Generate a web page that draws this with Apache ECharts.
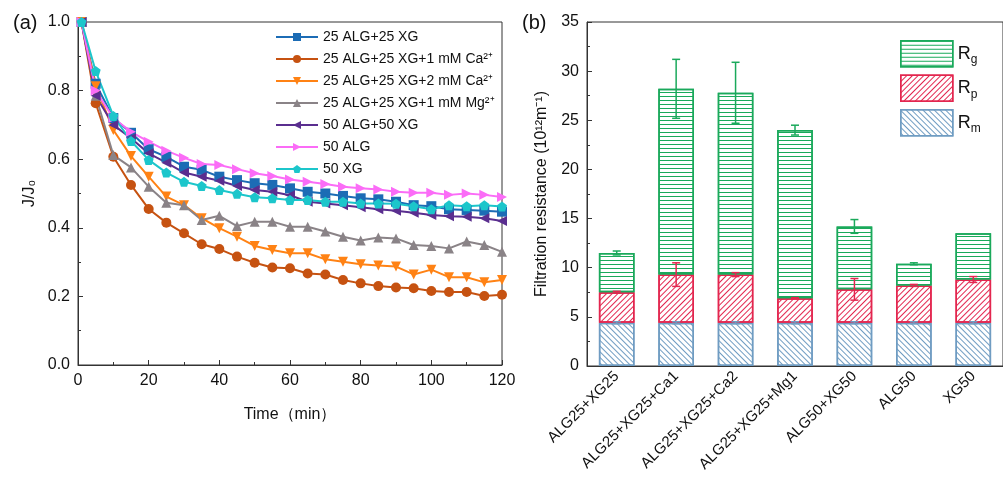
<!DOCTYPE html>
<html lang="en">
<head>
  <meta charset="UTF-8">
  <title>Flux decline and filtration resistance</title>
  <script src="https://cdn.jsdelivr.net/npm/echarts@6/dist/echarts.min.js"></script>
  <style>
    html, body {
      margin: 0;
      padding: 0;
      width: 100%;
      height: 100%;
      background: #fff;
    }
    #main {
      width: 1003px;
      height: 482px;
    }
  </style>
</head>
<body>
  <div id="main"></div>
  <script>
    // (a) normalised flux J/J0 vs time
    const times = [1, 5, 10, 15, 20, 25, 30, 35, 40, 45, 50, 55, 60, 65, 70, 75, 80, 85, 90, 95, 100, 105, 110, 115, 120];
    const alg25xg25 = [1.0, 0.82, 0.72, 0.677, 0.629, 0.607, 0.578, 0.569, 0.549, 0.539, 0.53, 0.525, 0.515, 0.505, 0.5, 0.493, 0.486, 0.483, 0.476, 0.466, 0.463, 0.454, 0.452, 0.45, 0.447];
    const alg25xg25Ca1 = [1.0, 0.763, 0.607, 0.525, 0.455, 0.415, 0.384, 0.352, 0.338, 0.316, 0.298, 0.284, 0.282, 0.267, 0.264, 0.248, 0.238, 0.23, 0.226, 0.224, 0.216, 0.213, 0.213, 0.201, 0.205];
    const alg25xg25Ca2 = [1.0, 0.813, 0.685, 0.609, 0.549, 0.491, 0.466, 0.428, 0.399, 0.374, 0.347, 0.335, 0.326, 0.326, 0.308, 0.301, 0.294, 0.29, 0.287, 0.264, 0.278, 0.256, 0.256, 0.241, 0.248];
    const alg25xg25Mg1 = [1.0, 0.785, 0.612, 0.576, 0.52, 0.473, 0.466, 0.423, 0.435, 0.405, 0.418, 0.418, 0.403, 0.403, 0.389, 0.374, 0.363, 0.372, 0.369, 0.35, 0.347, 0.34, 0.36, 0.35, 0.33];
    const alg50xg50 = [1.0, 0.785, 0.7, 0.661, 0.617, 0.59, 0.561, 0.549, 0.537, 0.522, 0.51, 0.505, 0.495, 0.476, 0.471, 0.466, 0.46, 0.454, 0.45, 0.444, 0.437, 0.434, 0.432, 0.428, 0.42];
    const alg50 = [1.0, 0.8, 0.72, 0.68, 0.651, 0.625, 0.604, 0.586, 0.583, 0.571, 0.559, 0.551, 0.541, 0.534, 0.528, 0.52, 0.515, 0.512, 0.505, 0.502, 0.502, 0.496, 0.5, 0.496, 0.49];
    const xg50 = [1.0, 0.857, 0.726, 0.653, 0.598, 0.561, 0.534, 0.522, 0.51, 0.499, 0.489, 0.486, 0.481, 0.481, 0.476, 0.476, 0.471, 0.471, 0.47, 0.463, 0.454, 0.466, 0.463, 0.466, 0.462];

    // (b) filtration resistance components
    const categories = ['ALG25+XG25', 'ALG25+XG25+Ca1', 'ALG25+XG25+Ca2', 'ALG25+XG25+Mg1', 'ALG50+XG50', 'ALG50', 'XG50'];
    const rm = [4.4, 4.4, 4.4, 4.4, 4.4, 4.4, 4.4];
    const rp = [3.1, 4.9, 4.9, 2.5, 3.4, 3.8, 4.4];
    const rg = [4.0, 18.9, 18.5, 17.1, 6.4, 2.2, 4.7];
    const rmErr = [0.1, 0.1, 0.1, 0.1, 0.1, 0.1, 0.1];
    const rpErr = [0.1, 1.2, 0.2, 0.05, 1.1, 0.1, 0.3];
    const rgErr = [0.2, 3.0, 3.1, 0.5, 0.7, 0.1, 0];

    const FONT = 'Liberation Sans';
    const AXIS = '#333';
    const GREEN = '#1aa95b';
    const RED = '#e3264f';
    const BLUE = '#6f9cc2';

    const pentagon = 'path://M0,-1 L0.951,-0.309 L0.588,0.809 L-0.588,0.809 L-0.951,-0.309 Z';

    function lineSeries(name, data, color, symbol, rotate) {
      return {
        name: name,
        type: 'line',
        xAxisIndex: 0,
        yAxisIndex: 0,
        data: times.map((t, i) => [t, data[i]]),
        symbol: symbol,
        symbolRotate: rotate || 0,
        symbolSize: 10,
        itemStyle: { color: color },
        lineStyle: { color: color, width: 2 },
        z: 3
      };
    }

    function sum(a, b) { return a.map((v, i) => v + b[i]); }
    const rpTop = sum(rm, rp);
    const rgTop = sum(rpTop, rg);

    function errSeries(name, tops, errs, color) {
      return {
        name: name,
        type: 'custom',
        xAxisIndex: 1,
        yAxisIndex: 1,
        z: 10,
        data: categories.map((c, i) => [i, tops[i], errs[i]]),
        encode: { x: 0, y: 1 },
        renderItem: function (params, api) {
          const x = api.value(0), y = api.value(1), e = api.value(2);
          if (!e) return null;
          const hi = api.coord([x, y + e]);
          const lo = api.coord([x, y - e]);
          const w = 4;
          const st = { stroke: color, lineWidth: 1.5 };
          return {
            type: 'group',
            children: [
              { type: 'line', shape: { x1: hi[0], y1: hi[1], x2: lo[0], y2: lo[1] }, style: st },
              { type: 'line', shape: { x1: hi[0] - w, y1: hi[1], x2: hi[0] + w, y2: hi[1] }, style: st },
              { type: 'line', shape: { x1: lo[0] - w, y1: lo[1], x2: lo[0] + w, y2: lo[1] }, style: st }
            ]
          };
        }
      };
    }

    function hatchStyle(color, rot) {
      return {
        color: '#fff',
        borderColor: color,
        borderWidth: 1.5,
        decal: {
          symbol: 'rect',
          symbolSize: 1,
          color: color,
          dashArrayX: [1, 0],
          dashArrayY: [1, 3],
          rotation: rot
        }
      };
    }

    const ROT_G = 0, ROT_P = -Math.PI / 4, ROT_M = Math.PI / 4;

    function barSeries(name, data, color, rot) {
      return {
        name: name,
        type: 'bar',
        xAxisIndex: 1,
        yAxisIndex: 1,
        stack: 'r',
        barWidth: '60%',
        data: data,
        itemStyle: hatchStyle(color, rot)
      };
    }

    const lineNames = ['25 ALG+25 XG', '25 ALG+25 XG+1 mM Ca²⁺', '25 ALG+25 XG+2 mM Ca²⁺',
      '25 ALG+25 XG+1 mM Mg²⁺', '50 ALG+50 XG', '50 ALG', '50 XG'];

    const chart = echarts.init(document.getElementById('main'));

    const option = {
      animation: false,
      textStyle: { fontFamily: FONT },
      title: [
        { text: '(a)', left: 8, top: 8, textStyle: { fontSize: 20, fontWeight: 'normal', color: '#111', fontFamily: FONT } },
        { text: '(b)', left: 517, top: 8, textStyle: { fontSize: 20, fontWeight: 'normal', color: '#111', fontFamily: FONT } }
      ],
      grid: [
        { left: 78, top: 22, width: 424, height: 343, show: true, borderColor: AXIS, borderWidth: 1, backgroundColor: 'transparent' },
        { left: 587, top: 22, width: 425, height: 344, show: true, borderColor: AXIS, borderWidth: 1, backgroundColor: 'transparent' }
      ],
      legend: [
        {
          data: lineNames,
          orient: 'vertical',
          left: 270,
          top: 25,
          itemWidth: 42,
          itemHeight: 10,
          itemGap: 8,
          textStyle: { fontFamily: FONT, fontSize: 14, color: '#111' }
        },
        {
          data: [
            { name: 'Rg', itemStyle: hatchStyle(GREEN, ROT_G) },
            { name: 'Rp', itemStyle: hatchStyle(RED, ROT_P) },
            { name: 'Rm', itemStyle: hatchStyle(BLUE, ROT_M) }
          ],
          orient: 'vertical',
          left: 895,
          top: 35,
          icon: 'rect',
          itemWidth: 52,
          itemHeight: 26,
          itemGap: 7,
          formatter: function (n) { return '{r|R}{s|' + n.slice(1) + '}'; },
          textStyle: {
            color: '#111',
            rich: {
              r: { fontFamily: FONT, fontSize: 18, color: '#111' },
              s: { fontFamily: FONT, fontSize: 12, color: '#111', padding: [12, 0, 0, 0] }
            }
          }
        }
      ],
      xAxis: [
        {
          gridIndex: 0,
          type: 'value',
          min: 0,
          max: 120,
          interval: 20,
          name: 'Time（min）',
          nameLocation: 'middle',
          nameGap: 42,
          nameTextStyle: { fontFamily: FONT, fontSize: 16, color: '#111' },
          axisLine: { lineStyle: { color: AXIS, width: 1 } },
          axisTick: { inside: true, length: 5, lineStyle: { color: AXIS } },
          minorTick: { show: true, splitNumber: 2, length: 3, lineStyle: { color: AXIS } },
          axisLabel: { fontFamily: FONT, fontSize: 16, color: '#111', margin: 8 },
          splitLine: { show: false }
        },
        {
          gridIndex: 1,
          type: 'category',
          data: categories,
          axisLine: { lineStyle: { color: AXIS, width: 1 } },
          axisTick: { inside: true, alignWithLabel: true, length: 5, lineStyle: { color: AXIS } },
          axisLabel: { fontFamily: FONT, fontSize: 15, color: '#111', rotate: 45, margin: 8, interval: 0 },
          splitLine: { show: false }
        }
      ],
      yAxis: [
        {
          gridIndex: 0,
          type: 'value',
          min: 0,
          max: 1,
          interval: 0.2,
          name: 'J/J₀',
          nameLocation: 'middle',
          nameGap: 40,
          nameTextStyle: { fontFamily: FONT, fontSize: 16, color: '#111' },
          axisLine: { show: true, lineStyle: { color: AXIS, width: 1 } },
          axisTick: { show: true, inside: true, length: 5, lineStyle: { color: AXIS } },
          minorTick: { show: true, splitNumber: 2, length: 3, lineStyle: { color: AXIS } },
          axisLabel: { fontFamily: FONT, fontSize: 16, color: '#111', margin: 8, formatter: v => v.toFixed(1) },
          splitLine: { show: false }
        },
        {
          gridIndex: 1,
          type: 'value',
          min: 0,
          max: 35,
          interval: 5,
          name: 'Filtration resistance (10¹²m⁻¹)',
          nameLocation: 'middle',
          nameGap: 37,
          nameTextStyle: { fontFamily: FONT, fontSize: 16, color: '#111' },
          axisLine: { show: true, lineStyle: { color: AXIS, width: 1 } },
          axisTick: { show: true, inside: true, length: 5, lineStyle: { color: AXIS } },
          minorTick: { show: true, splitNumber: 2, length: 3, lineStyle: { color: AXIS } },
          axisLabel: { fontFamily: FONT, fontSize: 16, color: '#111', margin: 8 },
          splitLine: { show: false }
        }
      ],
      series: [
        lineSeries(lineNames[0], alg25xg25, '#1c6cb5', 'rect'),
        lineSeries(lineNames[1], alg25xg25Ca1, '#c65211', 'circle'),
        lineSeries(lineNames[2], alg25xg25Ca2, '#ff8214', 'triangle', 180),
        lineSeries(lineNames[3], alg25xg25Mg1, '#8a8387', 'triangle'),
        lineSeries(lineNames[4], alg50xg50, '#5a2e8f', 'triangle', 90),
        lineSeries(lineNames[5], alg50, '#fb6cf7', 'triangle', -90),
        lineSeries(lineNames[6], xg50, '#1cc6cb', pentagon),
        barSeries('Rm', rm, BLUE, ROT_M),
        barSeries('Rp', rp, RED, ROT_P),
        barSeries('Rg', rg, GREEN, ROT_G),
        errSeries('Rm err', rm, rmErr, BLUE),
        errSeries('Rp err', rpTop, rpErr, RED),
        errSeries('Rg err', rgTop, rgErr, GREEN)
      ]
    };

    chart.setOption(option);
  </script>
</body>
</html>
